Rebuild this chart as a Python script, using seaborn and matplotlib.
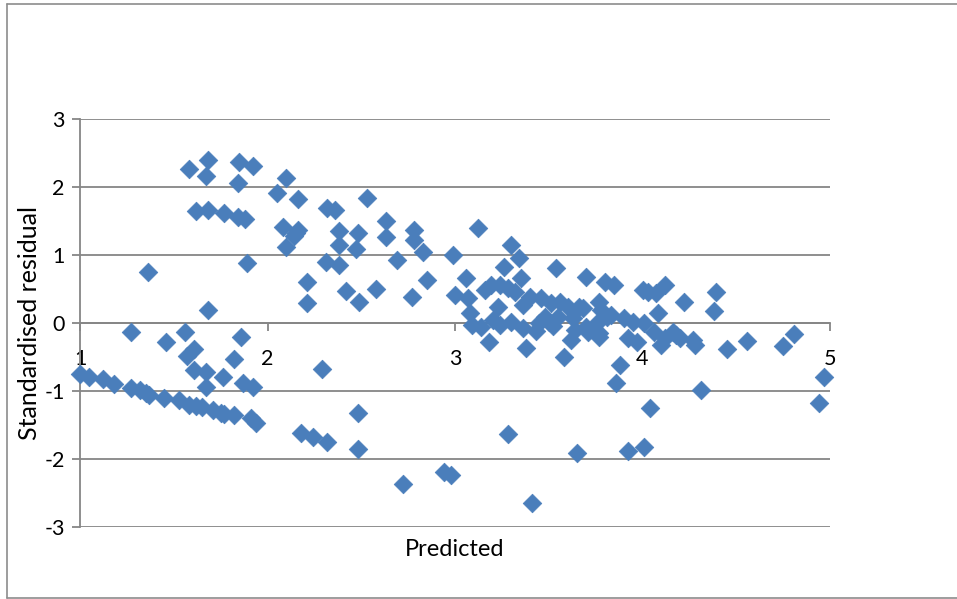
import matplotlib
matplotlib.use("Agg")
import matplotlib.pyplot as plt
import seaborn as sns
import pandas as pd
from matplotlib.lines import Line2D

# Predicted values and their standardised residuals
predicted = [
    # lower band, x 1-2
    1.00, 1.05, 1.12, 1.18, 1.27, 1.32, 1.35, 1.37, 1.45, 1.53,
    1.58, 1.62, 1.65, 1.71, 1.75, 1.77, 1.82, 1.91, 1.94,
    # upper and middle, x 1-2
    1.36, 1.27, 1.46, 1.56, 1.68, 1.61, 1.57, 1.61, 1.67, 1.67,
    1.76, 1.82, 1.86, 1.87, 1.92, 1.89, 1.58, 1.68, 1.67, 1.85,
    1.92, 1.84, 1.62, 1.68, 1.77, 1.84, 1.88,
    # x 2-3
    2.05, 2.10, 2.16, 2.08, 2.15, 2.16, 2.14, 2.10, 2.32, 2.36,
    2.53, 2.38, 2.48, 2.63, 2.63, 2.78, 2.78, 2.83, 2.38, 2.47,
    2.31, 2.38, 2.69, 2.99, 2.21, 2.21, 2.42, 2.49, 2.58, 2.85,
    2.77, 3.00, 2.29, 2.18, 2.24, 2.32, 2.48, 2.48, 2.72, 2.94,
    2.98,
    # x 3-5
    3.12, 3.30, 3.34, 3.26, 3.54, 3.70, 3.06, 3.80, 3.85, 4.00,
    4.03, 4.07, 4.12, 4.22, 4.39, 4.38, 3.07, 3.08, 3.09, 3.16,
    3.19, 3.24, 3.28, 3.35, 3.32, 3.23, 3.36, 3.40, 3.46, 3.51,
    3.56, 3.60, 3.66, 3.63, 3.77, 3.78, 3.83, 3.90, 3.95, 4.01,
    4.08, 3.64, 3.70, 3.77, 3.62, 3.92, 3.97, 4.06, 4.12, 4.16,
    4.20, 4.10, 3.14, 3.20, 3.24, 3.30, 3.36, 3.18, 3.38, 3.48,
    3.50, 3.55, 3.58, 3.88, 3.86, 4.04, 3.28, 3.65, 3.92, 4.01,
    3.41, 4.27, 4.28, 4.18, 4.45, 4.56, 4.75, 4.81, 4.97, 4.94,
    4.31, 3.68, 3.81, 3.76, 3.71, 3.76, 3.77, 3.52, 3.43, 3.45,
]
residual = [
    -0.75, -0.79, -0.82, -0.90, -0.96, -0.99, -1.03, -1.06, -1.10, -1.13,
    -1.21, -1.22, -1.24, -1.28, -1.32, -1.34, -1.35, -1.40, -1.47,
    0.75, -0.13, -0.28, -0.13, 0.19, -0.38, -0.49, -0.69, -0.72, -0.94,
    -0.79, -0.53, -0.21, -0.88, -0.94, 0.88, 2.26, 2.40, 2.16, 2.37,
    2.31, 2.06, 1.65, 1.66, 1.62, 1.56, 1.53,
    1.91, 2.13, 1.82, 1.41, 1.32, 1.37, 1.28, 1.12, 1.69, 1.66,
    1.84, 1.35, 1.32, 1.50, 1.26, 1.37, 1.22, 1.04, 1.15, 1.09,
    0.90, 0.85, 0.93, 1.00, 0.60, 0.29, 0.47, 0.31, 0.50, 0.63,
    0.38, 0.41, -0.68, -1.62, -1.68, -1.75, -1.32, -1.85, -2.37, -2.19,
    -2.24,
    1.40, 1.15, 0.96, 0.82, 0.81, 0.68, 0.66, 0.60, 0.56, 0.49,
    0.46, 0.44, 0.56, 0.31, 0.46, 0.18, 0.37, 0.15, -0.03, 0.49,
    0.56, 0.56, 0.51, 0.66, 0.46, 0.24, 0.26, 0.38, 0.37, 0.29,
    0.31, 0.24, 0.24, 0.07, 0.31, 0.19, 0.12, 0.07, 0.01, 0.00,
    0.15, -0.10, -0.06, -0.15, -0.25, -0.22, -0.28, -0.13, -0.22, -0.13,
    -0.22, -0.32, -0.06, 0.04, -0.03, 0.01, -0.07, -0.28, -0.37, 0.09,
    0.01, 0.09, -0.50, -0.62, -0.88, -1.25, -1.63, -1.91, -1.88, -1.82,
    -2.65, -0.25, -0.32, -0.18, -0.38, -0.26, -0.34, -0.16, -0.79, -1.17,
    -0.99, 0.22, 0.09, 0.01, -0.13, -0.15, -0.21, -0.05, -0.12, 0.00,
]

x_ticks = [1, 2, 3, 4, 5]
y_ticks = [-3, -2, -1, 0, 1, 2, 3]

df = pd.DataFrame({"Predicted": predicted, "Standardised residual": residual})

sns.set_theme(style="white")
plt.rcParams["font.family"] = ["Lato", "DejaVu Sans"]
plt.rcParams["axes.unicode_minus"] = False

W, H = 957, 599
fig = plt.figure(figsize=(W / 100, H / 100), dpi=100)
ax = fig.add_axes([80 / W, 1 - 527 / H, 750 / W, 408 / H])

grid_col = "#868686"
marker_col = "#4A7EBB"

for yv in y_ticks:
    ax.axhline(yv, color=grid_col, lw=1.3, zorder=1)

sns.scatterplot(data=df, x="Predicted", y="Standardised residual", ax=ax,
                marker="D", s=90, color=marker_col, edgecolor=marker_col,
                linewidth=0.5, zorder=3, clip_on=False, legend=False)

ax.set_xlim(1, 5)
ax.set_ylim(-3, 3)
ax.set_xticks(x_ticks)
ax.set_yticks(y_ticks)
ax.set_xticklabels([str(v) for v in x_ticks])
ax.set_yticklabels([str(v) for v in y_ticks])

for side in ["top", "right"]:
    ax.spines[side].set_visible(False)
ax.spines["bottom"].set_position(("data", 0))
ax.spines["bottom"].set_color(grid_col)
ax.spines["bottom"].set_linewidth(1.3)
ax.spines["left"].set_color(grid_col)
ax.spines["left"].set_linewidth(1.3)

ax.tick_params(axis="x", direction="out", length=6, width=1.3, color=grid_col,
               labelsize=15.5, pad=13, labelcolor="black", bottom=True)
ax.tick_params(axis="y", direction="out", length=6, width=1.3, color=grid_col,
               labelsize=15.5, pad=5, labelcolor="black", left=True)

ax.set_xlabel("Predicted", fontsize=17, color="black")
ax.xaxis.set_label_coords(0.5, -0.03)
ax.set_ylabel("Standardised residual", fontsize=18, color="black")
ax.yaxis.set_label_coords(-0.052, 0.5)

# chart area outline
frame_col = "#8c8c8c"
fig.add_artist(Line2D([7 / W, 7 / W], [1 - 4 / H, 1 - 598 / H], color=frame_col, lw=1.2))
fig.add_artist(Line2D([7 / W, 1.0], [1 - 4 / H, 1 - 4 / H], color=frame_col, lw=1.2))
fig.add_artist(Line2D([7 / W, 1.0], [1 - 598 / H, 1 - 598 / H], color=frame_col, lw=1.2))

fig.savefig("out.png", dpi=100, facecolor="white")
